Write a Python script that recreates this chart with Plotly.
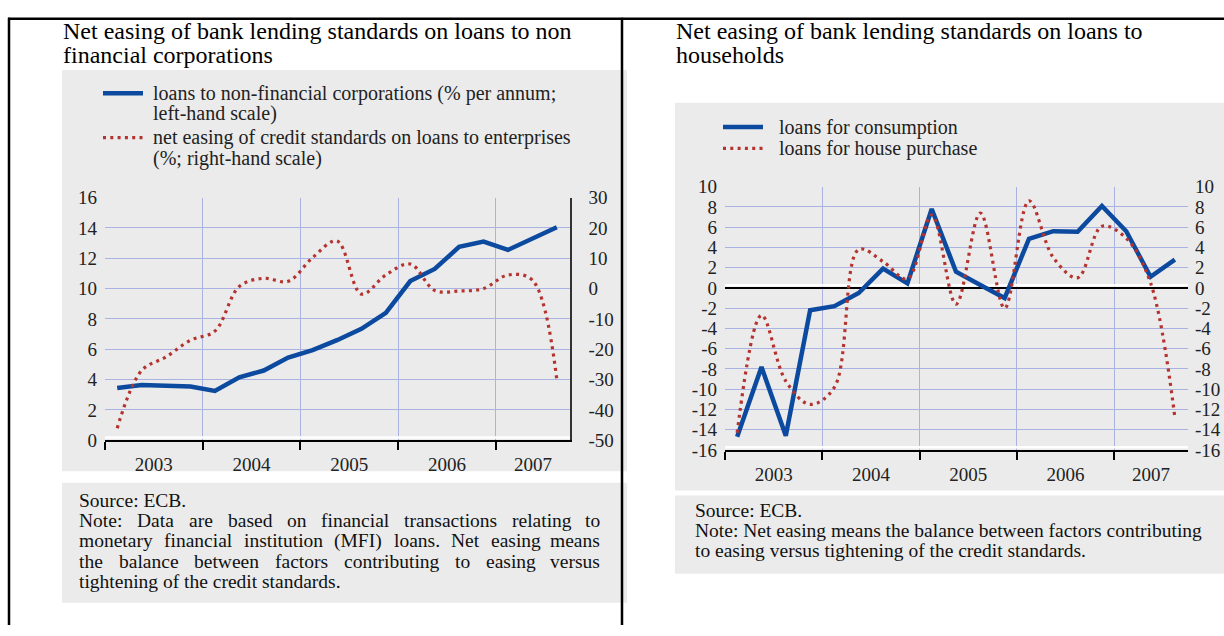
import plotly.graph_objects as go

# ---------------- data ----------------
quarters = ["2003Q1", "2003Q2", "2003Q3", "2003Q4",
            "2004Q1", "2004Q2", "2004Q3", "2004Q4",
            "2005Q1", "2005Q2", "2005Q3", "2005Q4",
            "2006Q1", "2006Q2", "2006Q3", "2006Q4",
            "2007Q1", "2007Q2", "2007Q3"]
years = ["2003", "2004", "2005", "2006", "2007"]

# left chart
nfc_loans = [3.45, 3.65, 3.6, 3.55, 3.25, 4.15, 4.6, 5.45, 5.95, 6.6,
             7.35, 8.4, 10.5, 11.3, 12.75, 13.1, 12.55, 13.3, 14.05]
enterprise_easing = [-46.0, -27.0, -22.5, -17.0, -14.0, 0.7, 3.4, 2.4, 10.2, 15.7,
                     -1.8, 4.5, 8.1, -0.6, -0.8, 0.0, 4.5, 2.8, -30.0]
# right chart
consumption = [-14.7, -7.8, -14.6, -2.2, -1.8, -0.5, 1.9, 0.45, 7.8, 1.6,
               0.3, -1.0, 4.85, 5.6, 5.55, 8.1, 5.6, 1.1, 2.8]
house_purchase = [-14.3, -2.7, -9.2, -11.5, -9.8, 3.8, 2.6, 0.9, 7.2, -1.6,
                  7.4, -2.0, 8.6, 3.0, 1.0, 6.1, 4.9, 0.5, -12.8]

# axis tick values
left_ticks = [0, 2, 4, 6, 8, 10, 12, 14, 16]
left_right_ticks = [-50, -40, -30, -20, -10, 0, 10, 20, 30]
right_ticks = [-16, -14, -12, -10, -8, -6, -4, -2, 0, 2, 4, 6, 8, 10]

left_title = ["Net easing of bank lending standards on loans to non",
              "financial corporations"]
right_title = ["Net easing of bank lending standards on loans to",
               "households"]
left_legend = [["loans to non-financial corporations (% per annum;", "left-hand scale)"],
               ["net easing of credit standards on loans to enterprises", "(%; right-hand scale)"]]
right_legend = ["loans for consumption", "loans for house purchase"]
left_notes = ["Source: ECB.",
              "Note: Data are based on financial transactions relating to",
              "monetary financial institution (MFI) loans. Net easing means",
              "the balance between factors contributing to easing versus",
              "tightening of the credit standards."]
left_notes_justified = [False, True, True, True, False]
right_notes = ["Source: ECB.",
               "Note: Net easing means the balance between factors contributing",
               "to easing versus tightening of the credit standards."]

# ---------------- styles ----------------
W, H = 1224, 636
BLUE = "#0b4a9e"
RED = "#b5332e"
GRID = "#a9b2e0"
BOX = "#ebebeb"
SERIF = "Liberation Serif"
XMAX = 2007.76
DOT = "3px,4.3px"
NOTE_SIZE = 19.5


def px(x):
    return x / W


def py(y):
    return 1 - y / H


def qpos(q):
    return int(q[:4]) + (int(q[-1]) - 0.5) / 4


x_q = [qpos(q) for q in quarters]
year_bounds = [int(y) for y in years]
label_pos = [(int(y) + min(int(y) + 1, XMAX)) / 2 for y in years]

fig = go.Figure()
fig.add_trace(go.Scatter(x=x_q, y=nfc_loans, mode="lines", xaxis="x", yaxis="y",
                         line=dict(color=BLUE, width=4.5), name="nfc loans"))
fig.add_trace(go.Scatter(x=x_q, y=enterprise_easing, mode="lines", xaxis="x", yaxis="y2",
                         line=dict(color=RED, width=3.2, dash=DOT, shape="spline"),
                         name="enterprise easing"))
fig.add_trace(go.Scatter(x=x_q, y=consumption, mode="lines", xaxis="x3", yaxis="y3",
                         line=dict(color=BLUE, width=4.5), name="consumption"))
fig.add_trace(go.Scatter(x=x_q, y=house_purchase, mode="lines", xaxis="x3", yaxis="y4",
                         line=dict(color=RED, width=3.2, dash=DOT, shape="spline"),
                         name="house purchase"))

tickfont = dict(family=SERIF, size=19, color="#222")


def xaxis_cfg(x0, x1, anchor):
    return dict(domain=[px(x0), px(x1)], range=[2003, XMAX], anchor=anchor,
                tickmode="array", tickvals=label_pos, ticktext=years, ticks="",
                showgrid=False, zeroline=False, showline=True, linecolor="black",
                linewidth=2, tickfont=tickfont, ticklabelstandoff=6, fixedrange=True,
                minor=dict(tickmode="array", tickvals=year_bounds, ticks="outside",
                           ticklen=8, tickwidth=1.5, tickcolor="black",
                           showgrid=True, gridcolor=GRID, gridwidth=1.2))


def yticks(vals):
    return dict(tickmode="array", tickvals=vals, ticktext=[str(v) for v in vals])


fig.update_layout(
    width=W, height=H, autosize=False, margin=dict(l=0, r=0, t=0, b=0),
    paper_bgcolor="white", plot_bgcolor=BOX, showlegend=False,
    xaxis=xaxis_cfg(105, 570, "y"),
    yaxis=dict(domain=[py(445), py(194)], range=[0, 16], **yticks(left_ticks),
               showgrid=True, gridcolor=GRID, gridwidth=1.2, zeroline=False,
               ticks="", showline=False, tickfont=tickfont, ticklabelstandoff=7,
               anchor="x", fixedrange=True),
    yaxis2=dict(overlaying="y", side="right", anchor="x", range=[-50, 30],
                **yticks(left_right_ticks), showgrid=False, zeroline=False,
                showline=True, linecolor="#333", linewidth=1.5, ticks="",
                tickfont=tickfont, ticklabelstandoff=13, fixedrange=True),
    xaxis3=xaxis_cfg(725, 1188, "y3"),
    yaxis3=dict(domain=[py(455), py(182.7)], range=[-16, 10], **yticks(right_ticks),
                showgrid=True, gridcolor=GRID, gridwidth=1.2,
                zeroline=True, zerolinecolor="black", zerolinewidth=2, ticks="",
                showline=False, tickfont=tickfont, ticklabelstandoff=7,
                anchor="x3", fixedrange=True),
    yaxis4=dict(overlaying="y3", side="right", anchor="x3", range=[-16, 10],
                **yticks(right_ticks), showgrid=False, zeroline=False,
                showline=False, ticks="", tickfont=tickfont, ticklabelstandoff=6,
                fixedrange=True),
)

shapes = []
# grey panels
for (x0, y0, x1, y1) in [(62, 62, 627, 477), (62, 489, 627, 613),
                         (675, 96, W, 497), (675, 502, W, 583)]:
    shapes.append(dict(type="rect", xref="paper", yref="paper", x0=px(x0), x1=px(x1),
                       y0=py(y1), y1=py(y0), fillcolor=BOX, line=dict(width=0),
                       layer="below"))
# frame lines
for (x0, y0, x1, y1) in [(8, 9, W, 9), (9, 8, 9, H), (622, 8, 622, H)]:
    shapes.append(dict(type="line", xref="paper", yref="paper", x0=px(x0), x1=px(x1),
                       y0=py(y0), y1=py(y1), line=dict(color="black", width=2.5),
                       layer="above"))
# white highlight above axis / zero lines
shapes.append(dict(type="line", xref="x", yref="y", x0=2003, x1=XMAX, y0=0.18, y1=0.18,
                   line=dict(color="white", width=2.5), layer="between"))
for yv in (0.27, -15.73):
    shapes.append(dict(type="line", xref="x3", yref="y3", x0=2003, x1=XMAX, y0=yv, y1=yv,
                       line=dict(color="white", width=2.5), layer="between"))
# legend symbols
for (x0, x1, yy, color, dash, w) in [(103, 143, 86, BLUE, "solid", 4.5),
                                     (103, 143, 132, RED, DOT, 3.2),
                                     (723, 763, 121, BLUE, "solid", 4.5),
                                     (723, 763, 143, RED, DOT, 3.2)]:
    shapes.append(dict(type="line", xref="paper", yref="paper", x0=px(x0), x1=px(x1),
                       y0=py(yy), y1=py(yy), line=dict(color=color, width=w, dash=dash)))
fig.update_layout(shapes=shapes)

# ---------------- text ----------------
annotations = []


def add_text(x, y, text, size, color="#111", anchor="left"):
    annotations.append(dict(xref="paper", yref="paper", x=px(x), y=py(y), text=text,
                            showarrow=False, xanchor=anchor, yanchor="middle",
                            borderpad=0,
                            font=dict(family=SERIF, size=size, color=color)))


# Times metrics (1/1000 em)
TIMES = {" ": 250, "(": 333, ")": 333, ",": 250, "-": 333, ".": 250, ":": 278, ";": 278,
         "%": 833, "A": 722, "B": 667, "C": 667, "D": 722, "E": 611, "F": 556, "G": 722,
         "H": 722, "I": 333, "J": 389, "K": 722, "L": 611, "M": 889, "N": 722, "O": 722,
         "P": 556, "Q": 722, "R": 667, "S": 556, "T": 611, "U": 722, "V": 722, "W": 944,
         "X": 722, "Y": 722, "Z": 611, "a": 444, "b": 500, "c": 444, "d": 500, "e": 444,
         "f": 333, "g": 500, "h": 500, "i": 278, "j": 278, "k": 500, "l": 278, "m": 778,
         "n": 500, "o": 500, "p": 500, "q": 500, "r": 333, "s": 389, "t": 278, "u": 500,
         "v": 500, "w": 722, "x": 500, "y": 500, "z": 444}


def text_width(s, size):
    return sum(TIMES.get(c, 500) for c in s) * size / 1000


def add_justified(x0, x1, y, line, size, color="#111"):
    words = line.split()
    widths = [text_width(w, size) for w in words]
    gap = (x1 - x0 - sum(widths)) / (len(words) - 1)
    x = x0
    for i, (w, ww) in enumerate(zip(words, widths)):
        if i == len(words) - 1:
            add_text(x1, y, w, size, color, anchor="right")
        else:
            add_text(x, y, w, size, color)
        x += ww + gap


# titles
for i, t in enumerate(left_title):
    add_text(62, 22 + 25 * i, t, 24, "#000")
for i, t in enumerate(right_title):
    add_text(675, 22 + 25 * i, t, 24, "#000")

# legends
leg_y = [[86, 107], [132, 154]]
for entry, ys in zip(left_legend, leg_y):
    for t, yy in zip(entry, ys):
        add_text(152, yy, t, 20, "#222")
for t, yy in zip(right_legend, [121, 143]):
    add_text(778, yy, t, 20, "#222")

# notes
for i, (t, j) in enumerate(zip(left_notes, left_notes_justified)):
    yy = 507 + 21 * i
    if j:
        add_justified(78, 601, yy, t, NOTE_SIZE)
    else:
        add_text(78, yy, t, NOTE_SIZE)
for i, t in enumerate(right_notes):
    add_text(694, 518 + 20.5 * i, t, NOTE_SIZE)

fig.update_layout(annotations=annotations)

# page without the default 8px body margin so the figure fills the window exactly
fig.write_html("out.html", config={"displayModeBar": False},
               post_script="document.body.style.margin='0';document.body.style.overflow='hidden';")
